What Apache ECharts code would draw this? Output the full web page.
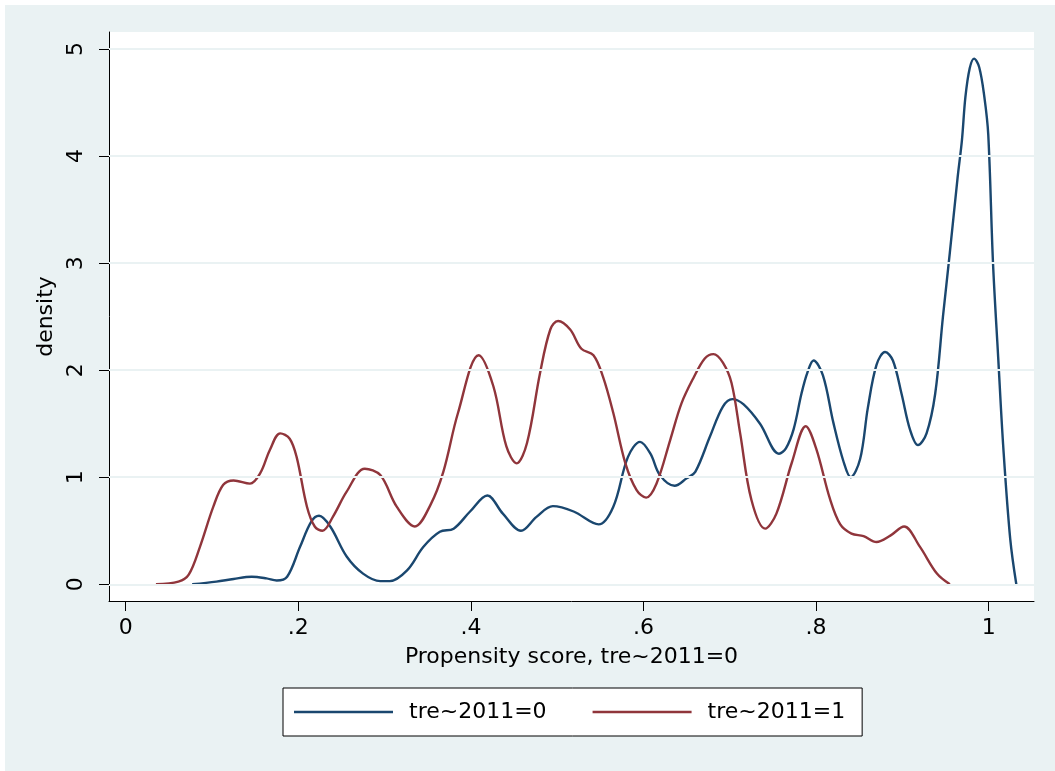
<!DOCTYPE html>
<html>
<head>
<meta charset="utf-8">
<script src="https://cdn.jsdelivr.net/npm/echarts@6/dist/echarts.min.js"></script>
<style>
html,body{margin:0;padding:0;background:#ffffff;}
#chart{width:1055px;height:771px;}
</style>
</head>
<body>
<div id="chart"></div>
<script>
// ---- data ----
const seriesNames = ['tre~2011=0', 'tre~2011=1'];
const xAxisTitle = 'Propensity score, tre~2011=0';
const yAxisTitle = 'density';
const xTickValues = [0, 0.2, 0.4, 0.6, 0.8, 1];
const xTickLabels = ['0', '.2', '.4', '.6', '.8', '1'];
const yTickValues = [0, 1, 2, 3, 4, 5];
const yTickLabels = ['0', '1', '2', '3', '4', '5'];

const score0 = [0.077,0.105,0.125,0.146,0.163,0.175,0.187,0.202,0.215,0.224,0.237,0.256,0.275,0.295,0.306,0.326,0.345,0.364,0.38,0.399,0.419,0.437,0.458,0.476,0.495,0.519,0.548,0.565,0.582,0.596,0.608,0.619,0.636,0.65,0.66,0.677,0.692,0.703,0.716,0.735,0.757,0.765,0.774,0.783,0.79,0.797,0.808,0.82,0.832,0.84,0.851,0.86,0.87,0.88,0.889,0.899,0.909,0.918,0.928,0.938,0.947,0.955,0.964,0.969,0.973,0.978,0.983,0.989,0.995,0.9995,1.005,1.011,1.017,1.025,1.032];
const density0 = [0,0.025,0.05,0.07,0.055,0.035,0.07,0.35,0.585,0.64,0.54,0.26,0.1,0.03,0.03,0.13,0.35,0.49,0.52,0.68,0.83,0.66,0.5,0.63,0.73,0.68,0.56,0.725,1.19,1.33,1.22,1.02,0.92,0.99,1.05,1.38,1.66,1.73,1.68,1.5,1.22,1.27,1.45,1.78,1.98,2.09,1.95,1.51,1.14,1.0,1.17,1.65,2.05,2.17,2.09,1.78,1.44,1.3,1.41,1.78,2.5,3.1,3.8,4.15,4.55,4.82,4.91,4.83,4.55,4.2,3.0,2.12,1.27,0.42,0];

const score1 = [0.035,0.061,0.073,0.086,0.1015,0.113,0.125,0.144,0.156,0.167,0.179,0.19,0.198,0.21,0.219,0.228,0.24,0.256,0.277,0.295,0.314,0.335,0.353,0.368,0.385,0.409,0.426,0.441,0.453,0.465,0.48,0.492,0.501,0.515,0.528,0.542,0.553,0.565,0.579,0.592,0.603,0.615,0.631,0.644,0.658,0.671,0.681,0.692,0.702,0.712,0.725,0.741,0.754,0.772,0.788,0.8,0.816,0.828,0.841,0.855,0.87,0.886,0.902,0.92,0.94,0.955];
const density1 = [0,0.025,0.09,0.35,0.725,0.93,0.97,0.94,1.04,1.255,1.41,1.36,1.19,0.725,0.54,0.5,0.63,0.865,1.08,1.02,0.725,0.54,0.74,1.05,1.6,2.14,1.85,1.29,1.13,1.32,1.97,2.38,2.46,2.38,2.2,2.14,1.94,1.6,1.13,0.88,0.81,0.94,1.35,1.69,1.93,2.11,2.15,2.07,1.88,1.41,0.79,0.52,0.66,1.14,1.476,1.27,0.8,0.56,0.474,0.45,0.395,0.455,0.54,0.354,0.1,0];

const navy = '#1a476f';
const maroon = '#90353b';
const bg = '#eaf2f3';
const FONT = 'DejaVu Sans';

function zip(xs, ys){ return xs.map((x,i)=>[x, ys[i]]); }

const chart = echarts.init(document.getElementById('chart'), null, {renderer:'canvas'});
const option = {
  animation: false,
  backgroundColor: 'transparent',
  textStyle: {fontFamily: FONT},
  graphic: [{
    type: 'rect', z: -10, silent: true,
    shape: {x: 5, y: 5, width: 1050, height: 766},
    style: {fill: bg}
  }],
  grid: {
    left: 109, top: 32, width: 925, height: 569,
    show: true, backgroundColor: '#ffffff', borderWidth: 0,
    containLabel: false
  },
  xAxis: {
    type: 'value',
    min: -0.0194, max: 1.0525,
    name: xAxisTitle, nameLocation: 'middle', nameGap: 45,
    nameTextStyle: {color: '#000', fontSize: 22, fontFamily: FONT},
    axisLine: {show: true, onZero: false, lineStyle: {color: '#000', width: 1}},
    axisTick: {show: true, inside: false, length: 10, lineStyle: {color: '#000', width: 1}, customValues: xTickValues},
    axisLabel: {show: true, color: '#000', fontSize: 22, margin: 16, fontFamily: FONT,
      customValues: xTickValues,
      formatter: function(v){ const i = xTickValues.findIndex(t=>Math.abs(t-v)<1e-9); return i>=0 ? xTickLabels[i] : ''; }},
    splitLine: {show: false}
  },
  yAxis: {
    type: 'value',
    min: -0.156, max: 5.159,
    name: yAxisTitle, nameLocation: 'middle', nameGap: 50, nameRotate: 90,
    nameTextStyle: {color: '#000', fontSize: 22, fontFamily: FONT},
    axisLine: {show: true, onZero: false, lineStyle: {color: '#000', width: 1}},
    axisTick: {show: true, inside: false, length: 10, lineStyle: {color: '#000', width: 1}, customValues: yTickValues},
    axisLabel: {show: true, color: '#000', fontSize: 22, margin: 22, rotate: 90, fontFamily: FONT,
      customValues: yTickValues,
      formatter: function(v){ const i = yTickValues.findIndex(t=>Math.abs(t-v)<1e-9); return i>=0 ? yTickLabels[i] : ''; }},
    splitLine: {show: false}
  },
  legend: {
    show: true,
    left: 283, top: 688,
    orient: 'horizontal',
    backgroundColor: '#ffffff',
    borderColor: '#000', borderWidth: 1, borderRadius: 0,
    padding: [13, 17, 13, 11],
    itemGap: 46,
    itemWidth: 99, itemHeight: 14,
    textStyle: {color: '#000', fontSize: 22, fontFamily: FONT, padding: [0, 0, 0, 11]},
    data: seriesNames.map(n => ({name: n, icon: 'path://M0,0 L100,0 L100,2.3 L0,2.3 Z'}))
  },
  series: [
    {
      name: '__grid', type: 'line', data: [], silent: true, z: 1,
      markLine: {
        silent: true, symbol: ['none','none'], label: {show: false},
        lineStyle: {color: bg, width: 2, type: 'solid'},
        data: yTickValues.map(v => ({yAxis: v}))
      }
    },
    {
      name: seriesNames[0], type: 'line', z: 3,
      data: zip(score0, density0),
      showSymbol: false, symbol: 'none', smooth: 0.35,
      itemStyle: {color: navy},
      lineStyle: {color: navy, width: 2.4}
    },
    {
      name: seriesNames[1], type: 'line', z: 3,
      data: zip(score1, density1),
      showSymbol: false, symbol: 'none', smooth: 0.35,
      itemStyle: {color: maroon},
      lineStyle: {color: maroon, width: 2.4}
    }
  ]
};
chart.setOption(option);
</script>
</body>
</html>
